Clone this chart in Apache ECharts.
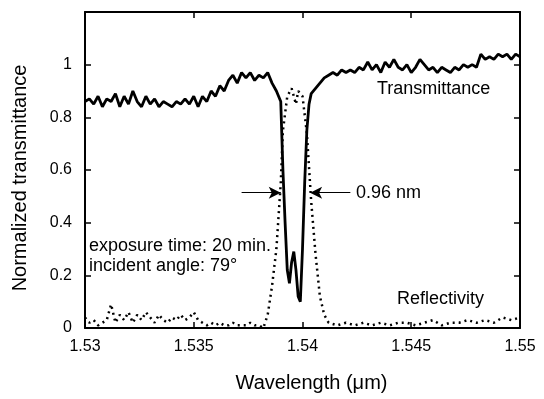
<!DOCTYPE html>
<html>
<head>
<meta charset="utf-8">
<script src="https://cdn.jsdelivr.net/npm/echarts@6/dist/echarts.min.js"></script>
<style>
  html, body { margin: 0; padding: 0; background: #fff; }
  #chart { width: 544px; height: 399px; }
</style>
</head>
<body>
<div id="chart"></div>
<script>
// transmittance (solid)
const transWl = [
  1.5300, 1.5302, 1.5304, 1.5306, 1.5308, 1.5310, 1.5312, 1.5314, 1.5316, 1.5318,
  1.5320, 1.5322, 1.5324, 1.5326, 1.5328, 1.5330, 1.5332, 1.5334, 1.5336, 1.5338,
  1.5340, 1.5342, 1.5344, 1.5346, 1.5348, 1.5350, 1.5352, 1.5354, 1.5356, 1.5358,
  1.5360, 1.5362, 1.5364, 1.5366, 1.5368, 1.5370, 1.5372, 1.5374, 1.5376, 1.5378,
  1.5380, 1.5382, 1.5384, 1.5386, 1.5388, 1.5390, 1.5391, 1.5392, 1.5393, 1.5394,
  1.5395, 1.5396, 1.5397, 1.5398, 1.5399, 1.5400, 1.5401, 1.5402, 1.5403, 1.5404,
  1.5406, 1.5408, 1.5410, 1.5412, 1.5414, 1.5416, 1.5418, 1.5420, 1.5422, 1.5424,
  1.5426, 1.5428, 1.5430, 1.5432, 1.5434, 1.5436, 1.5438, 1.5440, 1.5442, 1.5444,
  1.5446, 1.5448, 1.5450, 1.5452, 1.5454, 1.5456, 1.5458, 1.5460, 1.5462, 1.5464,
  1.5466, 1.5468, 1.5470, 1.5472, 1.5474, 1.5476, 1.5478, 1.5480, 1.5482, 1.5484,
  1.5486, 1.5488, 1.5490, 1.5492, 1.5494, 1.5496, 1.5498, 1.5500
];
const transVal = [
  0.86, 0.87, 0.85, 0.88, 0.84, 0.87, 0.86, 0.89, 0.84, 0.88,
  0.85, 0.90, 0.86, 0.84, 0.88, 0.85, 0.87, 0.84, 0.86, 0.85,
  0.84, 0.86, 0.85, 0.87, 0.85, 0.88, 0.84, 0.88, 0.86, 0.90,
  0.88, 0.92, 0.90, 0.94, 0.96, 0.93, 0.97, 0.95, 0.97, 0.94,
  0.96, 0.95, 0.97, 0.93, 0.90, 0.86, 0.60, 0.40, 0.22, 0.17,
  0.25, 0.29, 0.22, 0.12, 0.10, 0.30, 0.55, 0.75, 0.85, 0.89,
  0.91, 0.93, 0.95, 0.96, 0.97, 0.96, 0.98, 0.97, 0.98, 0.97,
  0.99, 0.98, 1.01, 0.98, 1.00, 0.97, 1.01, 0.99, 1.02, 0.99,
  0.98, 1.00, 0.97, 0.99, 1.02, 1.00, 0.98, 0.99, 0.97, 0.99,
  0.98, 0.97, 0.99, 0.98, 1.00, 0.99, 1.00, 0.99, 1.04, 1.02,
  1.03, 1.02, 1.04, 1.03, 1.04, 1.02, 1.04, 1.03
];

// reflectivity (dotted)
const reflWl = [
  1.5300, 1.5302, 1.5304, 1.5306, 1.5308, 1.5310, 1.5312, 1.5314, 1.5316, 1.5318,
  1.5320, 1.5322, 1.5324, 1.5326, 1.5328, 1.5330, 1.5332, 1.5334, 1.5336, 1.5338,
  1.5340, 1.5342, 1.5344, 1.5346, 1.5348, 1.5350, 1.5352, 1.5354, 1.5356, 1.5358,
  1.5360, 1.5362, 1.5364, 1.5366, 1.5368, 1.5370, 1.5372, 1.5374, 1.5376, 1.5378,
  1.5380, 1.5382, 1.5384, 1.5386, 1.5388, 1.5390, 1.5391, 1.5393, 1.5395, 1.5397,
  1.5398, 1.5400, 1.5402, 1.5404, 1.5406, 1.5408, 1.5410, 1.5412, 1.5416, 1.5420,
  1.5424, 1.5428, 1.5432, 1.5436, 1.5440, 1.5444, 1.5448, 1.5452, 1.5456, 1.5460,
  1.5464, 1.5468, 1.5472, 1.5476, 1.5480, 1.5484, 1.5488, 1.5492, 1.5496, 1.5500
];
const reflVal = [
  0.04, 0.02, 0.03, 0.01, 0.02, 0.03, 0.09, 0.02, 0.05, 0.03,
  0.06, 0.02, 0.05, 0.03, 0.06, 0.04, 0.02, 0.05, 0.03, 0.02,
  0.04, 0.03, 0.05, 0.03, 0.04, 0.06, 0.03, 0.02, 0.01, 0.02,
  0.01, 0.02, 0.01, 0.01, 0.02, 0.01, 0.01, 0.01, 0.02, 0.01,
  0.01, 0.00, 0.05, 0.16, 0.30, 0.55, 0.75, 0.88, 0.91, 0.85,
  0.90, 0.88, 0.74, 0.48, 0.28, 0.12, 0.05, 0.02, 0.01, 0.02,
  0.01, 0.02, 0.01, 0.02, 0.01, 0.02, 0.02, 0.01, 0.02, 0.03,
  0.01, 0.02, 0.02, 0.03, 0.02, 0.03, 0.02, 0.04, 0.03, 0.04
];

const xTickLabels = ['1.53', '1.535', '1.54', '1.545', '1.55'];
const yTickLabels = ['0', '0.2', '0.4', '0.6', '0.8', '1', ''];

// FWHM arrows: [from, to] in data space
const fwhmY = 0.514;
const arrowLeft = [[1.5372, fwhmY], [1.5390, fwhmY]];
const arrowRight = [[1.5422, fwhmY], [1.54035, fwhmY]];

const FONT = 'Liberation Sans, Arial, sans-serif';
const chart = echarts.init(document.getElementById('chart'), null, { renderer: 'canvas' });

const pair = (xs, ys) => xs.map((x, i) => [x, ys[i]]);
const axisLine = { show: true, onZero: false, lineStyle: { color: '#000', width: 2 } };
const tickIn = { show: true, inside: true, length: 6, lineStyle: { color: '#000', width: 1.5 } };
const note = (text, left, top) => ({
  type: 'text', left, top,
  style: { text, fill: '#000', fontSize: 18, fontFamily: FONT }
});

chart.setOption({
  animation: false,
  backgroundColor: '#fff',
  grid: { left: 85, right: 24, top: 12, bottom: 71 },
  xAxis: [
    {
      type: 'value', min: 1.53, max: 1.55, interval: 0.005,
      axisLine, axisTick: tickIn, splitLine: { show: false },
      axisLabel: {
        color: '#000', fontSize: 16, fontFamily: FONT, margin: 11,
        formatter: (v, i) => xTickLabels[i]
      },
      name: 'Wavelength (\u03bcm)', nameLocation: 'middle', nameGap: 45,
      nameTextStyle: { color: '#000', fontSize: 20, fontFamily: FONT, padding: [0, 0, 0, 18] }
    },
    {
      type: 'value', min: 1.53, max: 1.55, interval: 0.005, position: 'top',
      axisLine, axisTick: tickIn, axisLabel: { show: false }, splitLine: { show: false }
    }
  ],
  yAxis: [
    {
      type: 'value', min: 0, max: 1.2, interval: 0.2,
      axisLine, axisTick: tickIn, splitLine: { show: false },
      axisLabel: {
        color: '#000', fontSize: 16, fontFamily: FONT, margin: 13,
        formatter: (v, i) => yTickLabels[i]
      },
      name: 'Normalized transmittance', nameLocation: 'middle', nameGap: 55,
      nameTextStyle: { color: '#000', fontSize: 20, fontFamily: FONT, padding: [0, 16, 0, 0] }
    },
    {
      type: 'value', min: 0, max: 1.2, interval: 0.2, position: 'right',
      axisLine, axisTick: tickIn, axisLabel: { show: false }, splitLine: { show: false }
    }
  ],
  graphic: [
    note('Transmittance', 377, 80),
    note('Reflectivity', 397, 290),
    note('0.96 nm', 356, 184),
    note('exposure time: 20 min.', 89, 237),
    note('incident angle: 79\u00b0', 89, 257)
  ],
  series: [
    {
      type: 'line', name: 'Reflectivity', data: pair(reflWl, reflVal),
      showSymbol: false, symbol: 'none',
      lineStyle: { color: '#000', width: 2.5, type: [2, 4] }
    },
    {
      type: 'line', name: 'Transmittance', data: pair(transWl, transVal),
      showSymbol: false, symbol: 'none',
      lineStyle: { color: '#000', width: 2.8 },
      markLine: {
        silent: true, animation: false,
        symbol: ['none', 'arrow'], symbolSize: [9, 12],
        label: { show: false },
        lineStyle: { color: '#000', width: 1.2, type: 'solid' },
        data: [
          [{ coord: arrowLeft[0] }, { coord: arrowLeft[1] }],
          [{ coord: arrowRight[0] }, { coord: arrowRight[1] }]
        ]
      }
    }
  ]
});
</script>
</body>
</html>
